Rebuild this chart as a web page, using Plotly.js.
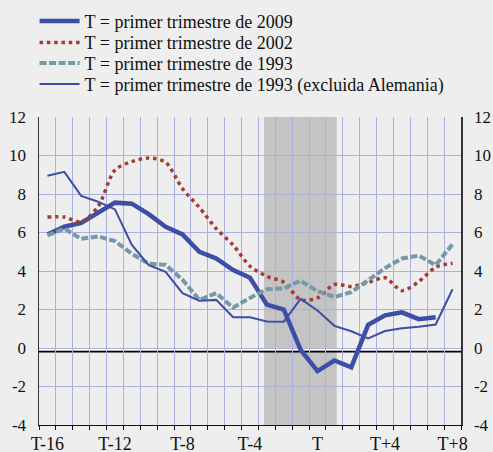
<!DOCTYPE html>
<html>
<head>
<meta charset="utf-8">
<script src="https://cdn.plot.ly/plotly-3.0.1.min.js"></script>
<style>
  html, body { margin: 0; padding: 0; background: #eeeeee; }
  #chart { width: 493px; height: 452px; }
</style>
</head>
<body>
<div id="chart"></div>
<script>
// quarters relative to T
var quarters = [-16, -15, -14, -13, -12, -11, -10, -9, -8, -7, -6, -5, -4,
                -3, -2, -1, 0, 1, 2, 3, 4, 5, 6, 7, 8];
var tickPos = [-16, -12, -8, -4, 0, 4, 8];
var tickLabels = ['T-16', 'T-12', 'T-8', 'T-4', 'T', 'T+4', 'T+8'];
var yTickPos = [-4, -2, 0, 2, 4, 6, 8, 10, 12];
var yTickLabels = ['-4', '-2', '0', '2', '4', '6', '8', '10', '12'];

var names = [
    'T = primer trimestre de 2009',
    'T = primer trimestre de 2002',
    'T = primer trimestre de 1993',
    'T = primer trimestre de 1993 (excluida Alemania)'
];

var s2009 = [5.9, 6.3, 6.5, 7.0, 7.55, 7.5, 6.95, 6.3, 5.9, 5.0, 4.65, 4.05, 3.65,
             2.25, 2.0, -0.1, -1.2, -0.65, -1.0, 1.2, 1.7, 1.85, 1.5, 1.6, null];
var s2002 = [6.8, 6.8, 6.55, 7.35, 9.25, 9.68, 9.87, 9.65, 8.28, 7.3, 6.2, 5.35, 4.25,
             3.72, 3.42, 2.5, 2.6, 3.3, 3.2, 3.4, 3.65, 2.98, 3.45, 4.2, 4.4];
var s1993 = [5.85, 6.2, 5.67, 5.8, 5.55, 4.9, 4.38, 4.32, 3.55, 2.5, 2.85, 2.1, 2.6,
             3.05, 3.1, 3.5, 2.95, 2.65, 2.9, 3.5, 4.15, 4.65, 4.8, 4.3, 5.4];
var s1993exDE = [8.95, 9.15, 7.9, 7.6, 7.2, 5.35, 4.3, 3.96, 2.85, 2.46, 2.5, 1.6, 1.6,
                 1.38, 1.37, 2.55, 1.95, 1.15, 0.87, 0.5, 0.88, 1.03, 1.1, 1.22, 3.05];

var blue = '#3c4ea6';
var red = '#a33d31';
var grey = '#7898a8';
var grid = '#aab0e2';
var serif = 'Liberation Serif, Times New Roman, serif';

var data = [{
    x: quarters, y: s2009, name: names[0], legend: 'legend',
    type: 'scatter', mode: 'lines',
    line: {color: blue, width: 4.5}
}, {
    x: quarters, y: s2002, name: names[1], legend: 'legend2',
    type: 'scatter', mode: 'lines',
    line: {color: red, width: 3.5, dash: '3.5px,3.8px', shape: 'spline', smoothing: 0.8}
}, {
    x: quarters, y: s1993, name: names[2], legend: 'legend3',
    type: 'scatter', mode: 'lines',
    line: {color: grey, width: 4, dash: '7px,2.5px'}
}, {
    x: quarters, y: s1993exDE, name: names[3], legend: 'legend4',
    type: 'scatter', mode: 'lines',
    line: {color: blue, width: 2}
}];

function legendAt(yPaper) {
    return {
        x: -0.0105, xanchor: 'left',
        y: yPaper, yanchor: 'middle',
        bgcolor: 'rgba(0,0,0,0)',
        itemwidth: 40,
        font: {family: serif, size: 18, color: '#111'}
    };
}

var layout = {
    width: 493,
    height: 452,
    margin: {l: 39, r: 32, t: 117, b: 27, autoexpand: false},
    paper_bgcolor: '#eeeeee',
    plot_bgcolor: '#eeeeee',
    font: {family: serif, size: 17, color: '#111'},
    showlegend: true,
    legend: legendAt(1.3107),
    legend2: legendAt(1.2412),
    legend3: legendAt(1.1743),
    legend4: legendAt(1.1062),
    xaxis: {
        range: [-16.5, 8.5],
        tickmode: 'array',
        tickvals: tickPos,
        ticktext: tickLabels,
        ticks: 'outside',
        ticklen: 2,
        tickcolor: 'rgba(0,0,0,0)',
        tickfont: {family: serif, size: 18, color: '#111'},
        showgrid: false,
        zeroline: false,
        showline: true,
        linecolor: '#111',
        linewidth: 1,
        minor: {
            tick0: -16.5,
            dtick: 1,
            ticks: 'outside',
            ticklen: 4,
            tickcolor: '#111',
            showgrid: true,
            gridcolor: grid,
            gridwidth: 1
        }
    },
    yaxis: {
        range: [-4, 12],
        tickmode: 'array',
        tickvals: yTickPos,
        ticktext: yTickLabels,
        tickfont: {family: serif, size: 17, color: '#111'},
        ticks: 'outside',
        ticklen: 8,
        tickcolor: 'rgba(0,0,0,0)',
        showgrid: true,
        gridcolor: grid,
        gridwidth: 1,
        zeroline: false,
        showline: true,
        linecolor: '#333',
        linewidth: 1.5
    },
    yaxis2: {
        overlaying: 'y',
        side: 'right',
        matches: 'y',
        range: [-4, 12],
        tickmode: 'array',
        tickvals: yTickPos,
        ticktext: yTickLabels,
        tickfont: {family: serif, size: 17, color: '#111'},
        ticks: 'outside',
        ticklen: 8,
        tickcolor: 'rgba(0,0,0,0)',
        showgrid: false,
        zeroline: false,
        showline: true,
        linecolor: '#333',
        linewidth: 1.5
    },
    shapes: [{
        type: 'rect', layer: 'below',
        xref: 'x', yref: 'paper',
        x0: -3.17, x1: 1.14, y0: 0, y1: 1,
        fillcolor: '#c4c4c4', line: {width: 0}
    }, {
        type: 'line', layer: 'between',
        xref: 'paper', yref: 'y',
        x0: 0, x1: 1, y0: -0.06, y1: -0.06,
        line: {color: '#ffffff', width: 2.5}
    }, {
        type: 'line', layer: 'between',
        xref: 'paper', yref: 'y',
        x0: 0, x1: 1, y0: -0.19, y1: -0.19,
        line: {color: '#000000', width: 1.6}
    }]
};

// dummy trace so the right-hand axis is drawn
data.push({
    x: [quarters[0]], y: [null], yaxis: 'y2',
    type: 'scatter', mode: 'lines', showlegend: false, hoverinfo: 'skip'
});

Plotly.newPlot('chart', data, layout, {displayModeBar: false, staticPlot: true});
</script>
</body>
</html>
